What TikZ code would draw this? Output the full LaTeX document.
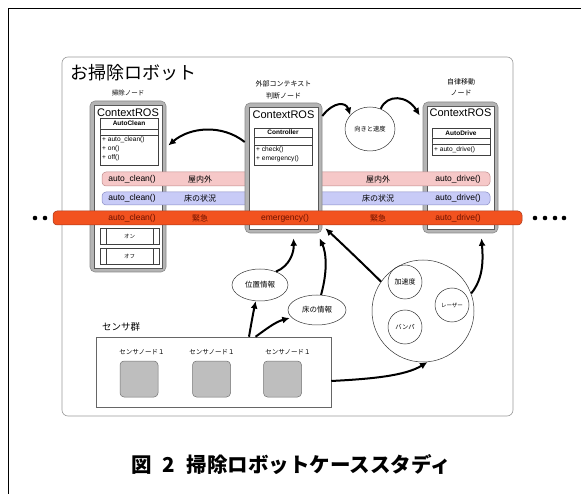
\documentclass[tikz,border=0pt]{standalone}
\usepackage{fontspec}
\setmainfont{Liberation Sans}
\newfontfamily\jp{Noto Sans CJK JP}
\usetikzlibrary{arrows.meta,shapes.geometric,calc}
\definecolor{pinkfill}{HTML}{F6C8C8}
\definecolor{pinkdraw}{HTML}{C08C8C}
\definecolor{bluefill}{HTML}{C8CBF7}
\definecolor{bluedraw}{HTML}{8A8EC6}
\definecolor{redfill}{HTML}{F2521F}
\definecolor{reddraw}{HTML}{A8381A}
\definecolor{redtext}{HTML}{6E1200}
\definecolor{nodegray}{HTML}{B4B4B4}
\definecolor{nodeedge}{HTML}{8A8A8A}
\definecolor{sqgray}{HTML}{BEBEBE}
\begin{document}
\begin{tikzpicture}[x=1pt,y=-1pt,
  outerbox/.style={draw=nodeedge, fill=nodegray, rounded corners=5pt, line width=0.6pt, inner sep=0pt},
  innerbox/.style={draw=black!65, fill=white, line width=0.4pt, inner sep=0pt},
  band/.style={rounded corners=4pt, line width=0.5pt, inner sep=0pt},
  cls/.style={draw=black!75, fill=white, line width=0.45pt},
  arr/.style={line width=2pt, -{Latex[length=7.5pt,width=7pt]}},
  txt/.style={inner sep=0pt},
  ctx/.style={inner sep=0pt, font=\fontsize{11}{12}\selectfont},
  clstitle/.style={inner sep=0pt, font=\bfseries\fontsize{6.5}{7}\selectfont},
  meth/.style={inner sep=0pt, anchor=west, font=\fontsize{6.6}{7}\selectfont},
  bandtxt/.style={inner sep=0pt, font=\fontsize{8.5}{10}\selectfont},
  jpsmall/.style={inner sep=0pt, font=\jp\fontsize{7}{8}\selectfont},
  oval/.style={ellipse, draw=black!80, line width=0.5pt, fill=white, inner sep=0pt},
  dot/.style={circle, fill=black, inner sep=0pt, minimum size=4.6pt}
]
\useasboundingbox (0,0) rectangle (581,494);
% outer frame lines
\draw[line width=0.8pt] (8,494) -- (8,8) -- (581,8);

% panel
\node[draw=black!40, fill=white, rounded corners=6pt, line width=0.6pt, minimum width=451pt, minimum height=359pt, inner sep=0pt] (panel) at (287.5,236.5) {};
\node[txt, anchor=west, font=\jp\fontsize{18}{20}\selectfont] (title) at (70,73) {お掃除ロボット};

% node labels
\node[jpsmall, font=\jp\fontsize{6.5}{8}\selectfont] (lblL) at (128,93) {掃除ノード};
\node[jpsmall] (lblM1) at (283.5,84) {外部コンテキスト};
\node[jpsmall] (lblM2) at (283.5,95.5) {判断ノード};
\node[jpsmall] (lblR1) at (461,82) {自律移動};
\node[jpsmall] (lblR2) at (461,93) {ノード};

% left node
\node[outerbox, minimum width=76pt, minimum height=171pt] (left) at (128,186.5) {};
\node[innerbox, minimum width=68pt, minimum height=163pt] (leftin) at (left) {};
\node[ctx] (ctxL) at (128,113) {ContextROS};
\draw[cls] (100,118) rectangle (158,165);
\draw[cls] (100,129) -- (158,129) (100,135) -- (158,135);
\node[clstitle] (clsL) at (129,123.5) {AutoClean};
\node[meth] (mL1) at (102,140) {+ auto\_clean()};
\node[meth] (mL2) at (102,149) {+ on()};
\node[meth] (mL3) at (102,158) {+ off()};
\draw[cls] (100,228) rectangle (159,244) (106,228) -- (106,244) (153,228) -- (153,244);
\draw[cls] (100,248) rectangle (159,264) (106,248) -- (106,264) (153,248) -- (153,264);
\node[jpsmall, font=\jp\fontsize{5.5}{6}\selectfont] (on) at (129.5,236) {オン};
\node[jpsmall, font=\jp\fontsize{5.5}{6}\selectfont] (off) at (129.5,256) {オフ};

% right node
\node[outerbox, minimum width=75pt, minimum height=131pt] (right) at (460.5,167.5) {};
\node[innerbox, minimum width=67pt, minimum height=123pt] (rightin) at (right) {};
\node[ctx] (ctxR) at (460.5,113) {ContextROS};
\draw[cls] (432,128) rectangle (490,155);
\draw[cls] (432,138) -- (490,138) (432,144) -- (490,144);
\node[clstitle] (clsR) at (461,133) {AutoDrive};
\node[meth] (mR1) at (434,149.5) {+ auto\_drive()};

% pink and blue bands
\node[band, draw=pinkdraw, fill=pinkfill, minimum width=388pt, minimum height=14pt] (pink) at (296,179) {};
\node[band, draw=bluedraw, fill=bluefill, minimum width=388pt, minimum height=13pt] (blue) at (296,198.5) {};

% middle node (over the bands)
\node[outerbox, minimum width=77pt, minimum height=130pt] (mid) at (283.5,168) {};
\node[innerbox, minimum width=69pt, minimum height=122pt] (midin) at (mid) {};
\node[ctx] (ctxM) at (283.5,115) {ContextROS};
\draw[cls] (254,128) rectangle (312,165);
\draw[cls] (254,137) -- (312,137) (254,145) -- (312,145);
\node[clstitle] (clsM) at (283,132.5) {Controller};
\node[meth] (mM1) at (256,150) {+ check()};
\node[meth] (mM2) at (256,159) {+ emergency()};

% band texts
\node[bandtxt] (p1) at (132,179) {auto\_clean()};
\node[bandtxt, font=\jp\fontsize{8}{9}\selectfont] (p2) at (200,179) {屋内外};
\node[bandtxt, font=\jp\fontsize{8}{9}\selectfont] (p3) at (378,179) {屋内外};
\node[bandtxt] (p4) at (458,179) {auto\_drive()};
\node[bandtxt] (b1) at (132,198.5) {auto\_clean()};
\node[bandtxt, font=\jp\fontsize{8}{9}\selectfont] (b2) at (200,198.5) {床の状況};
\node[bandtxt, font=\jp\fontsize{8}{9}\selectfont] (b3) at (378,198.5) {床の状況};
\node[bandtxt] (b4) at (458,198.5) {auto\_drive()};

% red band
\node[band, draw=reddraw, fill=redfill, minimum width=469pt, minimum height=14pt] (red) at (287.5,218) {};
\node[bandtxt, text=redtext] (r1) at (132,218) {auto\_clean()};
\node[bandtxt, text=redtext, font=\jp\fontsize{8}{9}\selectfont] (r2) at (200,218) {緊急};
\node[bandtxt, text=redtext] (r3) at (285,218) {emergency()};
\node[bandtxt, text=redtext, font=\jp\fontsize{8}{9}\selectfont] (r4) at (378,218) {緊急};
\node[bandtxt, text=redtext] (r5) at (458,218) {auto\_drive()};

% dots
\node[dot] (d1) at (35,218) {};
\node[dot] (d2) at (45,218) {};
\node[dot] (d3) at (535,218) {};
\node[dot] (d4) at (545,218) {};
\node[dot] (d5) at (555,218) {};
\node[dot] (d6) at (564,218) {};

% ellipses and circles
\node[oval, minimum width=50pt, minimum height=44pt, font=\jp\fontsize{6.3}{7}\selectfont] (dir) at (370,129) {向きと速度};
\node[oval, minimum width=56pt, minimum height=32pt, font=\jp\fontsize{7.5}{9}\selectfont] (pos) at (260,285) {位置情報};
\node[oval, minimum width=58pt, minimum height=30pt, font=\jp\fontsize{7.5}{9}\selectfont] (floor) at (317,310) {床の情報};
\node[circle, draw=black!80, line width=0.5pt, minimum size=102pt, inner sep=0pt] (big) at (423,311) {};
\node[circle, draw=black!80, line width=0.5pt, minimum size=34pt, inner sep=0pt, font=\jp\fontsize{7}{8}\selectfont] (acc) at (405,282) {加速度};
\node[circle, draw=black!80, line width=0.5pt, minimum size=34pt, inner sep=0pt, font=\jp\fontsize{6.3}{7}\selectfont] (bmp) at (405,327) {バンパ};
\node[circle, draw=black!80, line width=0.5pt, minimum size=34pt, inner sep=0pt, font=\jp\fontsize{5.5}{6}\selectfont] (lsr) at (452,305) {レーザー};

% sensor group
\node[txt, anchor=west, font=\jp\fontsize{9.5}{11}\selectfont] (sgl) at (102,327) {センサ群};
\node[draw=black!60, fill=white, line width=0.5pt, minimum width=235pt, minimum height=70pt, inner sep=0pt] (sens) at (213.5,372) {};
\node[jpsmall, font=\jp\fontsize{6.5}{8}\selectfont] (s1l) at (142,352) {センサノード１};
\node[jpsmall, font=\jp\fontsize{6.5}{8}\selectfont] (s2l) at (212,352) {センサノード１};
\node[jpsmall, font=\jp\fontsize{6.5}{8}\selectfont] (s3l) at (288,352) {センサノード１};
\node[draw=black!55, fill=sqgray, rounded corners=4pt, line width=0.5pt, minimum width=38pt, minimum height=36pt, inner sep=0pt] (sq1) at (139,379) {};
\node[draw=black!55, fill=sqgray, rounded corners=4pt, line width=0.5pt, minimum width=38pt, minimum height=36pt, inner sep=0pt] (sq2) at (211.5,379) {};
\node[draw=black!55, fill=sqgray, rounded corners=4pt, line width=0.5pt, minimum width=38pt, minimum height=36pt, inner sep=0pt] (sq3) at (282.5,379) {};

% arrows
\draw[arr] ($(mid.west)+(0,-26)$) .. controls (222,124) and (190,127) .. ($(left.east)+(2,-41)$);
\draw[arr] ($(mid.east)+(0,-52)$) .. controls (334,101) and (346,102) .. (dir.145);
\draw[arr] (dir.62) .. controls (387,94) and (407,95) .. ($(right.west)+(-3,-52)$);
\draw[arr] (pos.40) .. controls (290,266) and (294,252) .. ($(mid.south)+(10,5)$);
\draw[arr] (floor.75) .. controls (328,270) and (326,252) .. ($(mid.south)+(36,5)$);
\draw[arr] (big.145) .. controls (357,258) and (338,240) .. ($(mid.south east)+(3,-5)$);
\draw[arr] (big.20) .. controls (484,278) and (483,258) .. ($(right.south)+(21,5)$);
\draw[arr] ($(sens.north)+(35.5,0)$) .. controls (251,325) and (253,314) .. (pos.-105);
\draw[arr] ($(sens.north)+(42,0)$) .. controls (265,330) and (275,322) .. ($(floor.west)+(2,8)$);
\draw[arr] ($(sens.east)+(0,9)$) .. controls (370,379) and (405,376) .. (big.-85);

% caption
\node[txt, font=\jp\bfseries\fontsize{20.5}{24}\selectfont] (cap) at (291,465) {図\hspace{0.55em}2\hspace{0.55em}掃除ロボットケーススタディ};
\end{tikzpicture}
\end{document}
